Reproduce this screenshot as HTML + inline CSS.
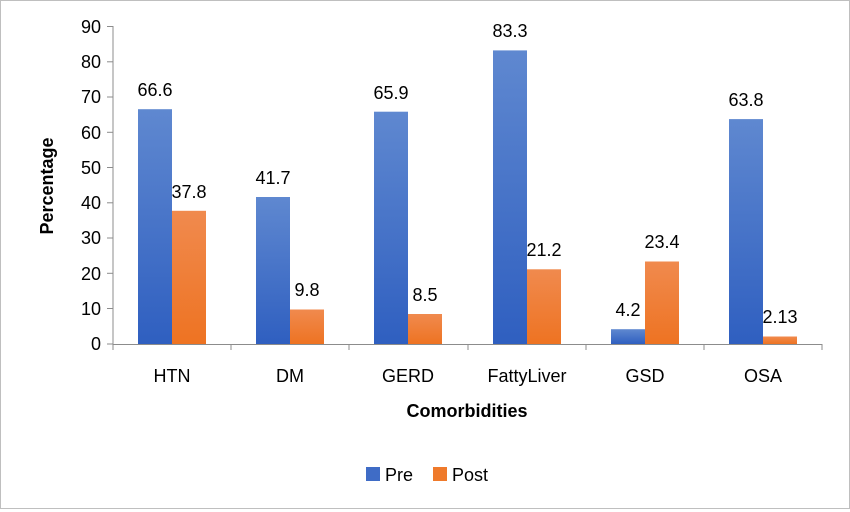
<!DOCTYPE html>
<html><head><style>
html,body{margin:0;padding:0;background:#fff}
svg{display:block}
text{font-family:"Liberation Sans",sans-serif;fill:#000}
</style></head><body>
<svg width="850" height="512" viewBox="0 0 850 512" xmlns="http://www.w3.org/2000/svg">
<defs>
<linearGradient id="b" x1="0" y1="0" x2="0" y2="1"><stop offset="0" stop-color="#5f88d0"/><stop offset="1" stop-color="#2f5fc0"/></linearGradient>
<linearGradient id="o" x1="0" y1="0" x2="0" y2="1"><stop offset="0" stop-color="#f08a4e"/><stop offset="1" stop-color="#ee7322"/></linearGradient>
</defs>
<rect x="0.5" y="0.5" width="849" height="508" fill="#fff" stroke="#bfbfbf"/>
<g stroke="#8c8c8c" stroke-width="1">
<line x1="113" y1="26" x2="113" y2="344"/>
<line x1="113" y1="344.5" x2="822" y2="344.5"/>
<line x1="107" y1="26.5" x2="113" y2="26.5"/><line x1="107" y1="61.8" x2="113" y2="61.8"/><line x1="107" y1="97" x2="113" y2="97"/><line x1="107" y1="132.3" x2="113" y2="132.3"/><line x1="107" y1="167.5" x2="113" y2="167.5"/><line x1="107" y1="202.8" x2="113" y2="202.8"/><line x1="107" y1="238" x2="113" y2="238"/><line x1="107" y1="273.3" x2="113" y2="273.3"/><line x1="107" y1="308.5" x2="113" y2="308.5"/><line x1="107" y1="344" x2="113" y2="344"/>
<line x1="113" y1="344" x2="113" y2="350"/><line x1="231" y1="344" x2="231" y2="350"/><line x1="349" y1="344" x2="349" y2="350"/><line x1="468" y1="344" x2="468" y2="350"/><line x1="586" y1="344" x2="586" y2="350"/><line x1="704" y1="344" x2="704" y2="350"/><line x1="822" y1="344" x2="822" y2="350"/>
</g>
<g font-size="18" text-anchor="end">
<text x="101" y="33">90</text><text x="101" y="68">80</text><text x="101" y="103">70</text><text x="101" y="139">60</text><text x="101" y="174">50</text><text x="101" y="209">40</text><text x="101" y="244">30</text><text x="101" y="280">20</text><text x="101" y="315">10</text><text x="101" y="350">0</text>
</g>
<text transform="translate(53,186) rotate(-90)" font-size="18" font-weight="bold" text-anchor="middle">Percentage</text>
<g>
<rect x="138" y="109.2" width="34" height="234.8" fill="url(#b)"/><rect x="172" y="210.8" width="34" height="133.2" fill="url(#o)"/>
<rect x="256" y="197" width="34" height="147" fill="url(#b)"/><rect x="290" y="309.5" width="34" height="34.5" fill="url(#o)"/>
<rect x="374" y="111.7" width="34" height="232.3" fill="url(#b)"/><rect x="408" y="314" width="34" height="30" fill="url(#o)"/>
<rect x="493" y="50.4" width="34" height="293.6" fill="url(#b)"/><rect x="527" y="269.3" width="34" height="74.7" fill="url(#o)"/>
<rect x="611" y="329.2" width="34" height="14.8" fill="url(#b)"/><rect x="645" y="261.5" width="34" height="82.5" fill="url(#o)"/>
<rect x="729" y="119.1" width="34" height="224.9" fill="url(#b)"/><rect x="763" y="336.5" width="34" height="7.5" fill="url(#o)"/>
</g>
<g font-size="18" text-anchor="middle">
<text x="155" y="96">66.6</text><text x="189" y="198">37.8</text>
<text x="273" y="184">41.7</text><text x="307" y="296">9.8</text>
<text x="391" y="99">65.9</text><text x="425" y="301">8.5</text>
<text x="510" y="37">83.3</text><text x="544" y="256">21.2</text>
<text x="628" y="316">4.2</text><text x="662" y="248">23.4</text>
<text x="746" y="106">63.8</text><text x="780" y="323">2.13</text>
</g>
<g font-size="18" text-anchor="middle">
<text x="172" y="382">HTN</text><text x="290" y="382">DM</text><text x="408" y="382">GERD</text><text x="527" y="382">FattyLiver</text><text x="645" y="382">GSD</text><text x="763" y="382">OSA</text>
</g>
<text x="467" y="417" font-size="18" font-weight="bold" text-anchor="middle">Comorbidities</text>
<rect x="366" y="467" width="14" height="14" fill="#3f6cc6"/>
<text x="385" y="481" font-size="18">Pre</text>
<rect x="433" y="467" width="14" height="14" fill="#ef7a2b"/>
<text x="452" y="481" font-size="18">Post</text>
</svg>
</body></html>
